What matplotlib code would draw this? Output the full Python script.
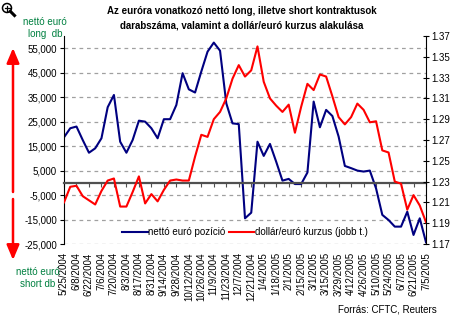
import numpy as np
import pandas as pd
import matplotlib
matplotlib.use("Agg")
import matplotlib.pyplot as plt
from matplotlib.ticker import FuncFormatter
from matplotlib.patches import FancyArrowPatch, Circle
from matplotlib.lines import Line2D
from matplotlib.transforms import IdentityTransform

plt.rcParams["font.family"] = ["Liberation Sans", "DejaVu Sans"]
plt.rcParams["font.size"] = 7

# weekly observations, Tuesday dates
weeks = pd.date_range("2004-05-25", "2005-07-05", freq="7D")

net_euro = [18600, 22300, 23000, 17500, 12300, 14100, 18200, 30900, 35900, 16800,
            12300, 17500, 25400, 25000, 22300, 18200, 26000, 26000, 31800, 44800,
            38200, 36900, 45500, 53600, 57300, 54000, 32500, 24300, 24000, -14500,
            -12200, 16800, 11000, 15900, 8600, 900, 1600, -500, -500, 4200,
            33200, 22700, 29800, 27300, 18900, 6900, 6000, 5000, 4600, 5000,
            -2300, -13100, -15200, -17900, -17900, -11800, -21300, -14500, -24300]

usd_eur = [1.210, 1.225, 1.226, 1.216, 1.212, 1.208, 1.221, 1.231, 1.233, 1.206,
           1.206, 1.220, 1.235, 1.209, 1.218, 1.211, 1.222, 1.231, 1.232, 1.231,
           1.231, 1.254, 1.275, 1.273, 1.290, 1.297, 1.310, 1.329, 1.342, 1.331,
           1.337, 1.360, 1.326, 1.310, 1.303, 1.297, 1.304, 1.277, 1.302, 1.324,
           1.318, 1.333, 1.331, 1.312, 1.292, 1.285, 1.292, 1.305, 1.299, 1.287,
           1.288, 1.260, 1.258, 1.230, 1.228, 1.203, 1.217, 1.207, 1.191]

left_ticks = np.arange(-25000, 55001, 10000)
right_ticks = np.arange(1.17, 1.3701, 0.02)

W, H = 458, 322
fig = plt.figure(figsize=(W / 100, H / 100), dpi=100)
ax = fig.add_axes([64 / W, 1 - 244 / H, (426 - 64) / W, (244 - 36) / H])

x = np.arange(len(weeks))
ax.plot(x, net_euro, color="#000080", lw=1.5, label="nettó euró pozíció")
ax.set_xlim(0, len(weeks) - 1)
ax.set_ylim(-25000, 60000)
ax.set_yticks(left_ticks)
ax.yaxis.set_major_formatter(FuncFormatter(lambda v, p: f"{v:,.0f}"))
ax.grid(axis="y", color="#a0a0a0", linestyle=(0, (3, 3)), lw=0.9)
ax.tick_params(axis="y", direction="out", length=3, width=0.8, pad=2)

# category axis crosses at zero
ax.spines["bottom"].set_position(("data", 0))
ax.spines["bottom"].set_color("#505050")
ax.spines["bottom"].set_linewidth(1.6)
ax.spines["top"].set_visible(False)
ax.spines["right"].set_visible(False)
ax.set_xticks(x[::2])
ax.tick_params(axis="x", direction="out", length=3, color="#505050",
               labelbottom=False)

labels = [f"{d.month}/{d.day}/{d.year}" for d in weeks[::2]]
sec = ax.secondary_xaxis("bottom")
sec.set_xticks(x[::2], labels, rotation=90)
sec.spines["bottom"].set_visible(False)
sec.tick_params(length=0, pad=6)

ax2 = ax.twinx()
ax2.plot(x, usd_eur, color="#ff0000", lw=1.5, label="dollár/euró kurzus (jobb t.)")
ax2.set_ylim(1.17, 1.37)
ax2.set_yticks(right_ticks)
ax2.yaxis.set_major_formatter(FuncFormatter(lambda v, p: f"{v:.2f}"))
ax2.tick_params(axis="y", direction="inout", length=5, width=0.8, pad=1)
for s in ["top", "bottom", "left"]:
    ax2.spines[s].set_visible(False)

h1, l1 = ax.get_legend_handles_labels()
h2, l2 = ax2.get_legend_handles_labels()
ax2.legend(h1 + h2, l1 + l2, ncol=2, loc="lower center",
           bbox_to_anchor=(0.5, -0.01), frameon=False, handlelength=2.6,
           handletextpad=0.1, columnspacing=0.3, fontsize=7)

fig.text(242 / W, 1 - 11 / H,
         "Az euróra vonatkozó nettó long, illetve short kontraktusok",
         ha="center", va="center", fontweight="bold", fontsize=7)
fig.text(242 / W, 1 - 25 / H,
         "darabszáma, valamint a dollár/euró kurzus alakulása",
         ha="center", va="center", fontweight="bold", fontsize=7)

green = "#008040"
fig.text(45 / W, 1 - 22 / H, "nettó euró", color=green, ha="center", va="center")
fig.text(45 / W, 1 - 34 / H, "long  db", color=green, ha="center", va="center")
fig.text(38 / W, 1 - 272 / H, "nettó euró", color=green, ha="center", va="center")
fig.text(38 / W, 1 - 284 / H, "short db", color=green, ha="center", va="center")
fig.text(437 / W, 1 - 310 / H, "Forrás: CFTC, Reuters", ha="right", va="center")


def fp(px, py):
    return (px / W, 1 - py / H)


for y0, y1 in [(192, 48), (199, 260)]:
    fig.add_artist(FancyArrowPatch(fp(13, y0), fp(13, y1), transform=fig.transFigure,
                                   arrowstyle="-|>,head_length=0.9,head_width=0.38",
                                   mutation_scale=10, lw=1.8, color="#ff0000",
                                   shrinkA=0, shrinkB=0))

# zoom glyph in the corner, drawn in pixel units
pix = IdentityTransform()
fig.add_artist(Circle((7, H - 8), 4.5, transform=pix, fill=False,
                      lw=1.1, color="black"))
fig.add_artist(Line2D([10.3, 14.5], [H - 11.3, H - 15.5], transform=pix,
                      lw=2.2, color="black"))
fig.add_artist(Line2D([4.5, 9.5], [H - 8, H - 8], transform=pix,
                      lw=0.9, color="black"))
fig.add_artist(Line2D([7, 7], [H - 5.5, H - 10.5], transform=pix,
                      lw=0.9, color="black"))

fig.savefig("out.png", dpi=100)
